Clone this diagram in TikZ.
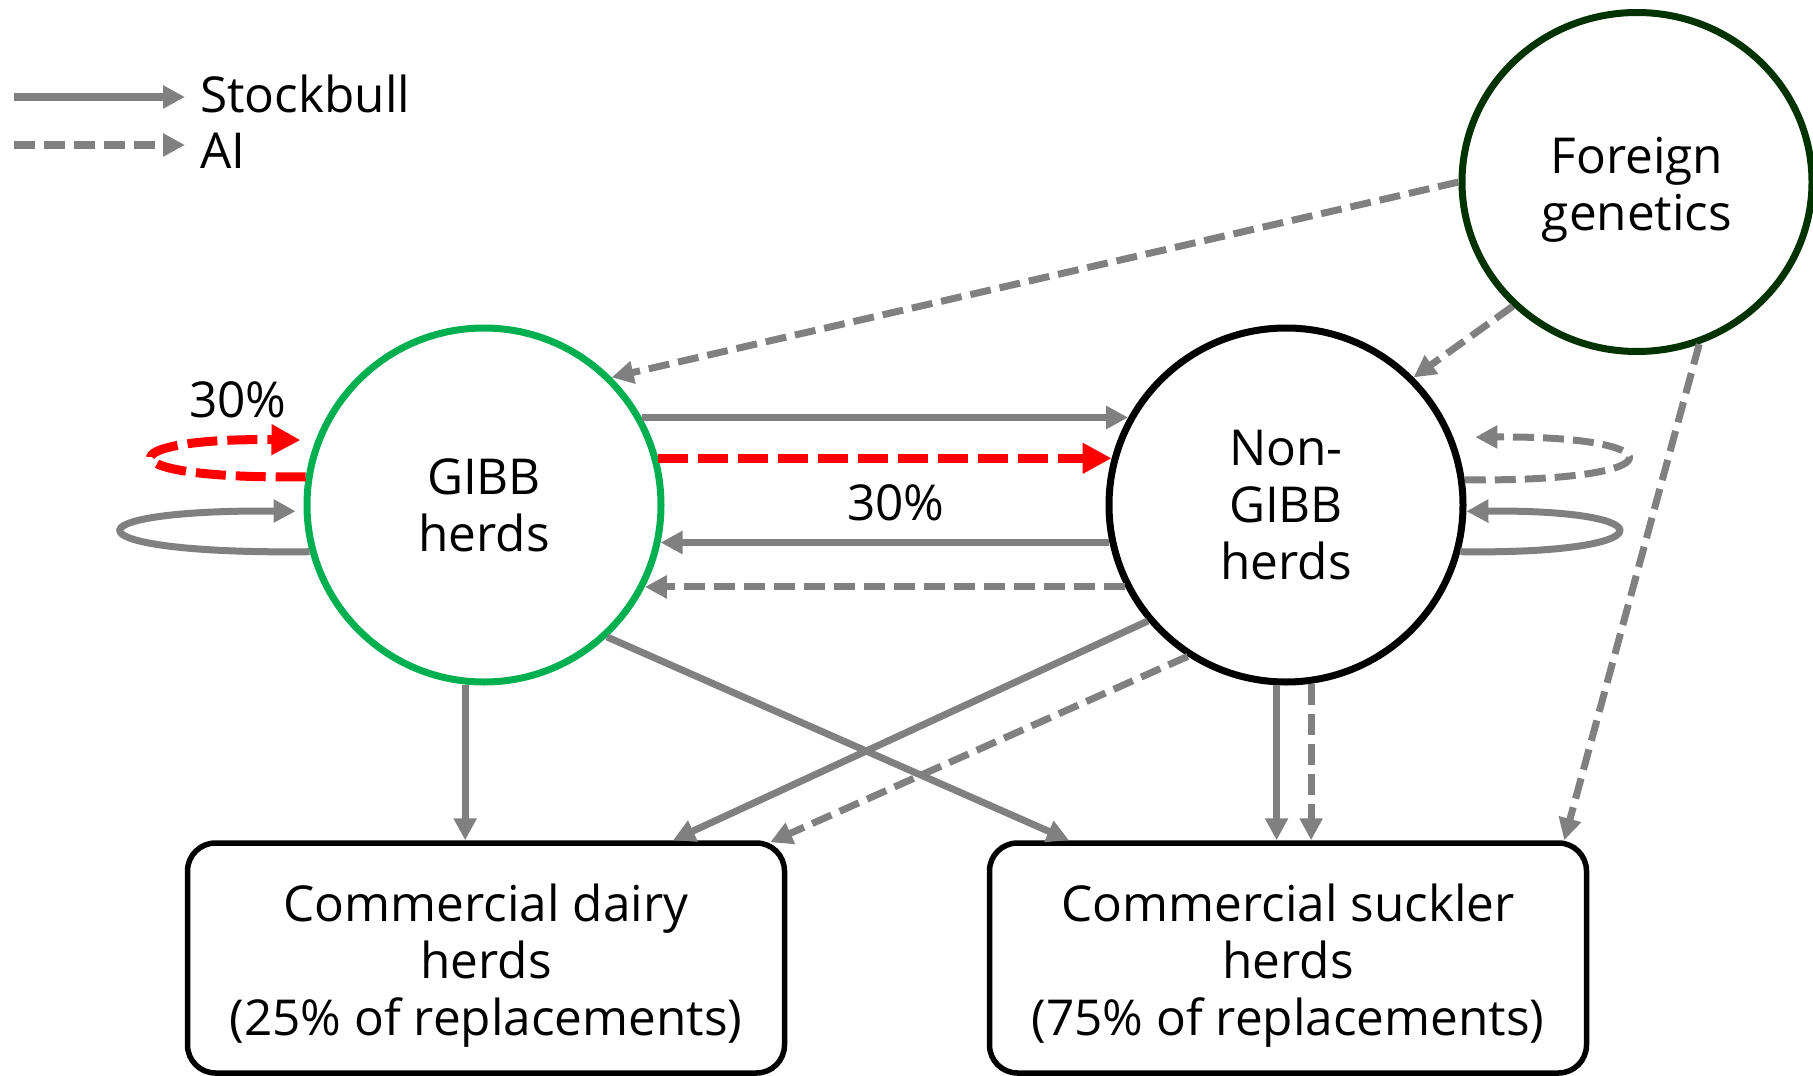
\documentclass[tikz,border=0pt]{standalone}
\usepackage{fontspec}
\setmainfont{Open Sans}
\usetikzlibrary{arrows.meta}
\usetikzlibrary{calc}
\usetikzlibrary{positioning}
\usetikzlibrary{shapes.geometric}

\definecolor{gibbgreen}{RGB}{0,176,80}
\definecolor{foreigngreen}{RGB}{0,51,0}
\definecolor{flowgray}{RGB}{128,128,128}

\begin{document}
\begin{tikzpicture}[x=1pt, y=-1pt,
  herd/.style={circle, draw, line width=7pt, minimum size=354pt, inner sep=0pt, align=center},
  herdbox/.style={draw, line width=5.5pt, rounded corners=28pt, minimum width=597pt, minimum height=230pt},
  stockbull/.style={draw=flowgray, line width=7pt, -{Triangle[length=22pt,width=22pt]}},
  ai/.style={stockbull, dash pattern=on 21pt off 9pt},
  redai/.style={draw=red, line width=9pt, dash pattern=on 30pt off 10pt, -{Triangle[length=29pt,width=29pt]}},
  font=\fontsize{49.5}{57}\selectfont]

\useasboundingbox (0,0) rectangle (1813,1076);

% legend
\coordinate (keysb) at (14,97);
\coordinate (keyai) at (14,145);
\node[anchor=base west, inner xsep=15pt, inner ysep=0pt] (sbtext) at (185,112) {Stockbull};
\node[anchor=base west, inner xsep=15pt, inner ysep=0pt] (aitext) at (185,168) {AI};
\draw[stockbull, line width=8pt] (keysb) -- (keysb -| sbtext.west);
\draw[ai, line width=8pt] (keyai) -- (keyai -| aitext.west);

% herds
\node[herd, draw=gibbgreen] (gibb) at (484,505) {GIBB\\herds};
\node[herd] (nongibb) at (1286,505) {Non-\\GIBB\\herds};
\node[ellipse, draw=foreigngreen, line width=7pt, minimum width=350pt, minimum height=339pt] (foreign) at (1637,182) {};
\node[align=center] (foreigntext) at ($(foreign)+(0,8)$) {Foreign\\genetics};

\node[herdbox] (dairy) at (486,958) {};
\node[align=center] (dairytext) at ($(dairy)+(0,8)$) {Commercial dairy\\herds\\(25\% of replacements)};
\node[herdbox] (suckler) at (1288,958) {};
\node[align=center] (sucklertext) at ($(suckler)+(0,8)$) {Commercial suckler\\herds\\(75\% of replacements)};

% percentages
\node[anchor=base, inner sep=0pt] (looppct) at (238,417) {30\%};
\node[anchor=base, inner sep=0pt] (movepct) at (896,520) {30\%};

% between herds
\draw[stockbull] (gibb.29) -- (nongibb.151);
\draw[redai] (gibb.15) -- (nongibb.165);
\draw[stockbull] (nongibb.-168) -- (gibb.-12);
\draw[ai] (nongibb.-153) -- (gibb.-27);

% loops
\draw[redai, shorten >=15pt] (gibb.171) .. controls +(-206,3) and +(-206,-3) .. (gibb.159);
\draw[stockbull, shorten >=8pt] (gibb.-165) .. controls +(-244,3) and +(-244,-2) .. (gibb.-178);
\draw[ai, shorten >=22pt] (nongibb.8) .. controls +(220,2) and +(220,-2) .. (nongibb.22);
\draw[stockbull] (nongibb.-15) .. controls +(205,3) and +(205,-2) .. (nongibb.-2);

% foreign genetics
\draw[ai] (foreign.180) -- (gibb.45);
\draw[ai] (foreign.-135) -- (nongibb.45);
\draw[ai] (foreign.-69) -- ($(suckler.north east)+(-25,0)$);

% to commercial herds
\draw[stockbull] (gibb.-96) -- (gibb.-96 |- dairy.north);
\draw[stockbull] (gibb.-47) -- ($(suckler.north)+(-219,0)$);
\draw[stockbull] (nongibb.-140) -- ($(dairy.north)+(187,0)$);
\draw[ai] (nongibb.-123) -- ($(dairy.north east)+(-17,2)$);
\draw[stockbull] (nongibb.-93) -- (nongibb.-93 |- suckler.north);
\draw[ai] (nongibb.-82) -- (nongibb.-82 |- suckler.north);

\end{tikzpicture}
\end{document}
